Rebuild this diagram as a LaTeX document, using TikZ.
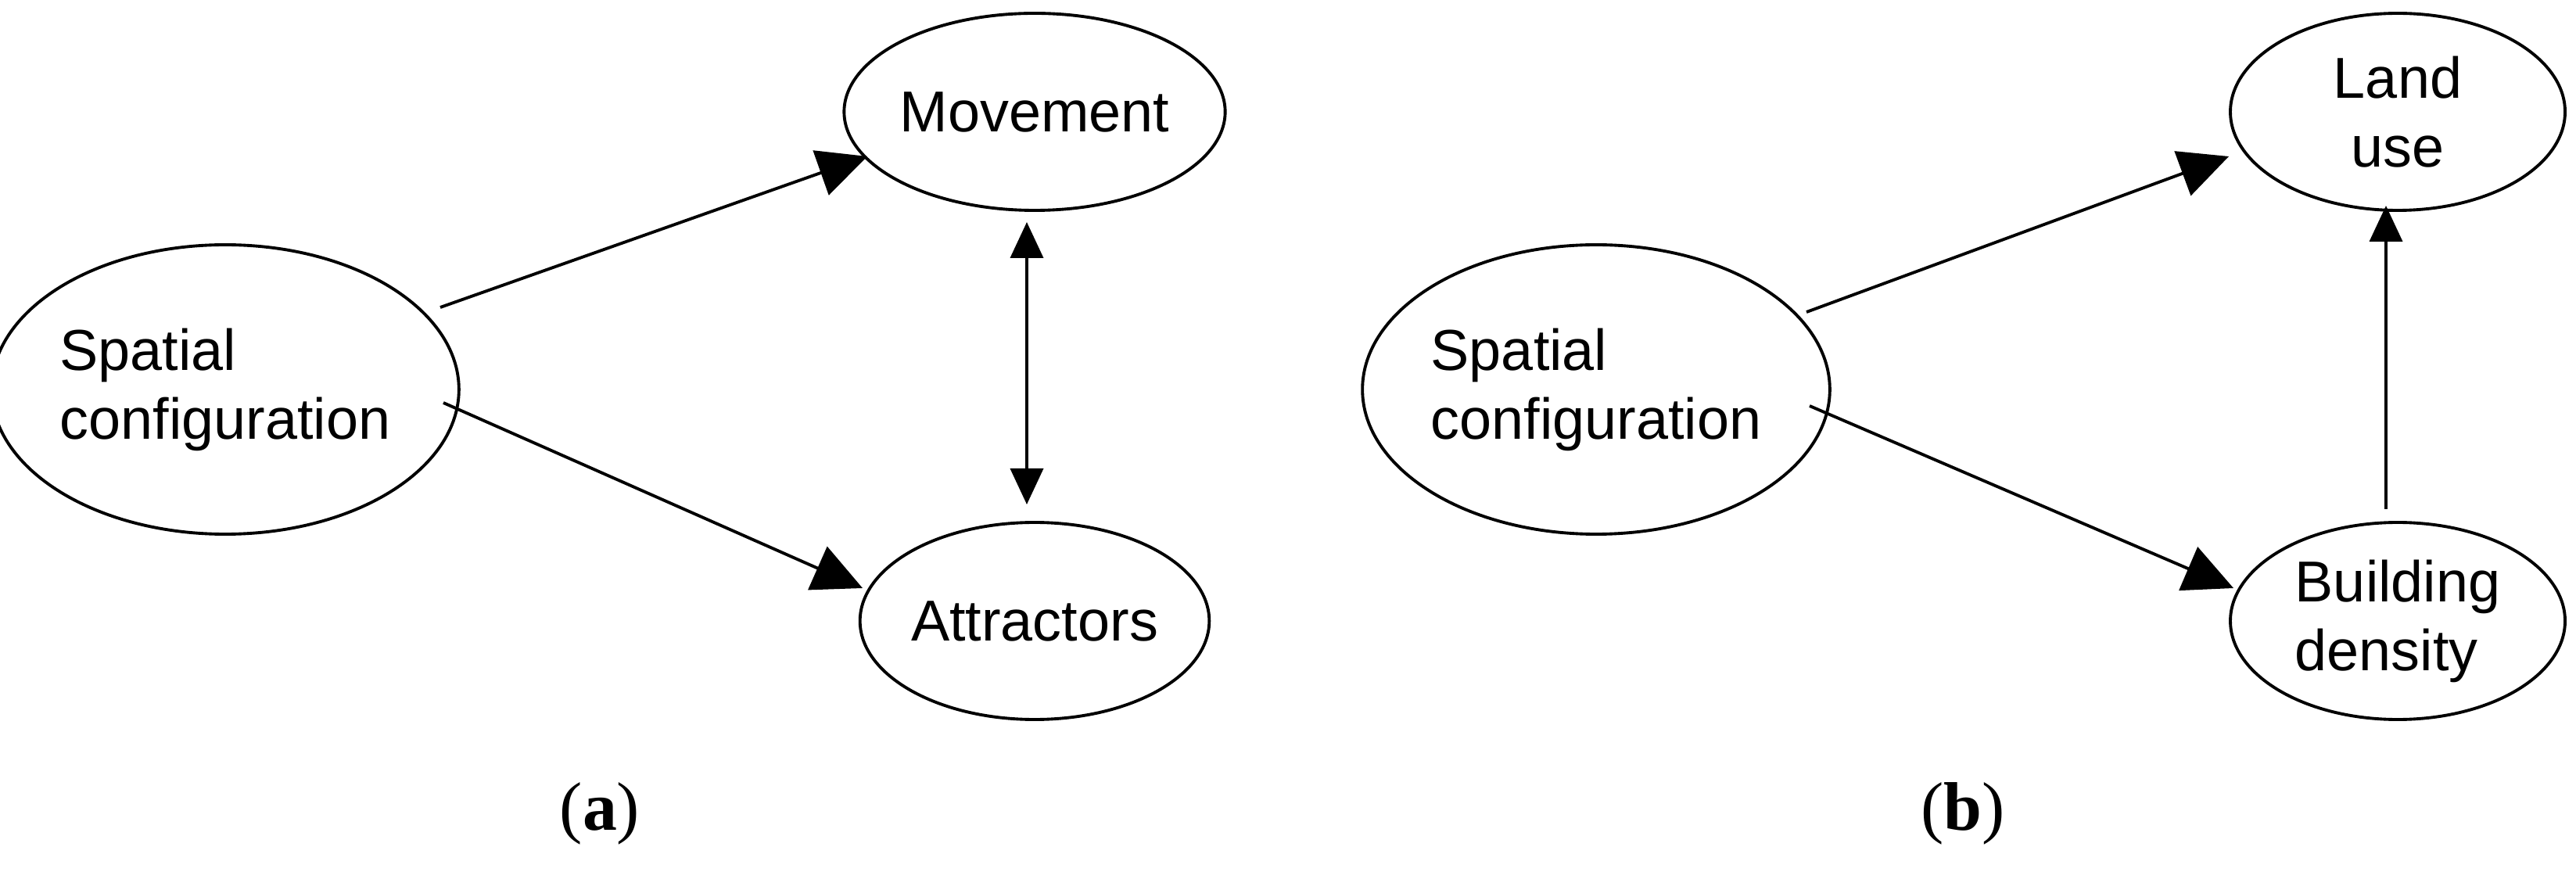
\documentclass[tikz,border=0pt]{standalone}
\usepackage{fontspec}
\setmainfont{Liberation Sans}
\newfontfamily\capfont{Liberation Serif}
\usetikzlibrary{arrows.meta,shapes.geometric}
\begin{document}
\begin{tikzpicture}[
  el/.style={draw,ellipse,line width=1.1pt,inner sep=0pt,font=\fontsize{21}{25}\selectfont},
  big/.style={draw,line width=1.1pt,-{Triangle[length=0.63cm,width=0.6cm]}},
  small/.style={draw,line width=1.1pt,{Triangle[length=0.46cm,width=0.42cm]}-{Triangle[length=0.46cm,width=0.42cm]}},
  single/.style={draw,line width=1.1pt,-{Triangle[length=0.46cm,width=0.42cm]}},
  captext/.style={font=\capfont\fontsize{25}{30}\selectfont}]
\useasboundingbox (0,0) rectangle (32.94,11.37);
% panel a
\node[el,minimum width=5.34cm,minimum height=3.7cm,align=left] (sa) at (2.88,6.39) {Spatial\\configuration};
\node[el,minimum width=4.28cm,minimum height=2.52cm] (mv) at (13.23,9.94) {Movement};
\node[el,minimum width=4.28cm,minimum height=2.52cm] (at) at (13.23,3.43) {Attractors};
\coordinate (a1s) at (5.63,7.44); \coordinate (a1e) at (11.09,9.37);
\coordinate (a2s) at (5.67,6.22); \coordinate (a2e) at (11.03,3.85);
\coordinate (a3s) at (13.13,8.53); \coordinate (a3e) at (13.13,4.92);
\draw[big] (a1s) -- (a1e);
\draw[big] (a2s) -- (a2e);
\draw[small] (a3s) -- (a3e);
\node[captext] (ca) at (7.67,0.97) {(\textbf{a})};
% panel b
\node[el,minimum width=5.34cm,minimum height=3.7cm,align=left] (sb) at (20.41,6.39) {Spatial\\configuration};
\node[el,minimum width=4.28cm,minimum height=2.52cm,align=center] (lu) at (30.66,9.94) {Land\\use};
\node[el,minimum width=4.28cm,minimum height=2.52cm,align=left] (bd) at (30.66,3.43) {Building\\density};
\coordinate (b1s) at (23.1,7.38); \coordinate (b1e) at (28.5,9.37);
\coordinate (b2s) at (23.14,6.18); \coordinate (b2e) at (28.56,3.85);
\coordinate (b3s) at (30.51,4.86); \coordinate (b3e) at (30.51,8.74);
\draw[big] (b1s) -- (b1e);
\draw[big] (b2s) -- (b2e);
\draw[single] (b3s) -- (b3e);
\node[captext] (cb) at (25.1,0.97) {(\textbf{b})};
\end{tikzpicture}
\end{document}
